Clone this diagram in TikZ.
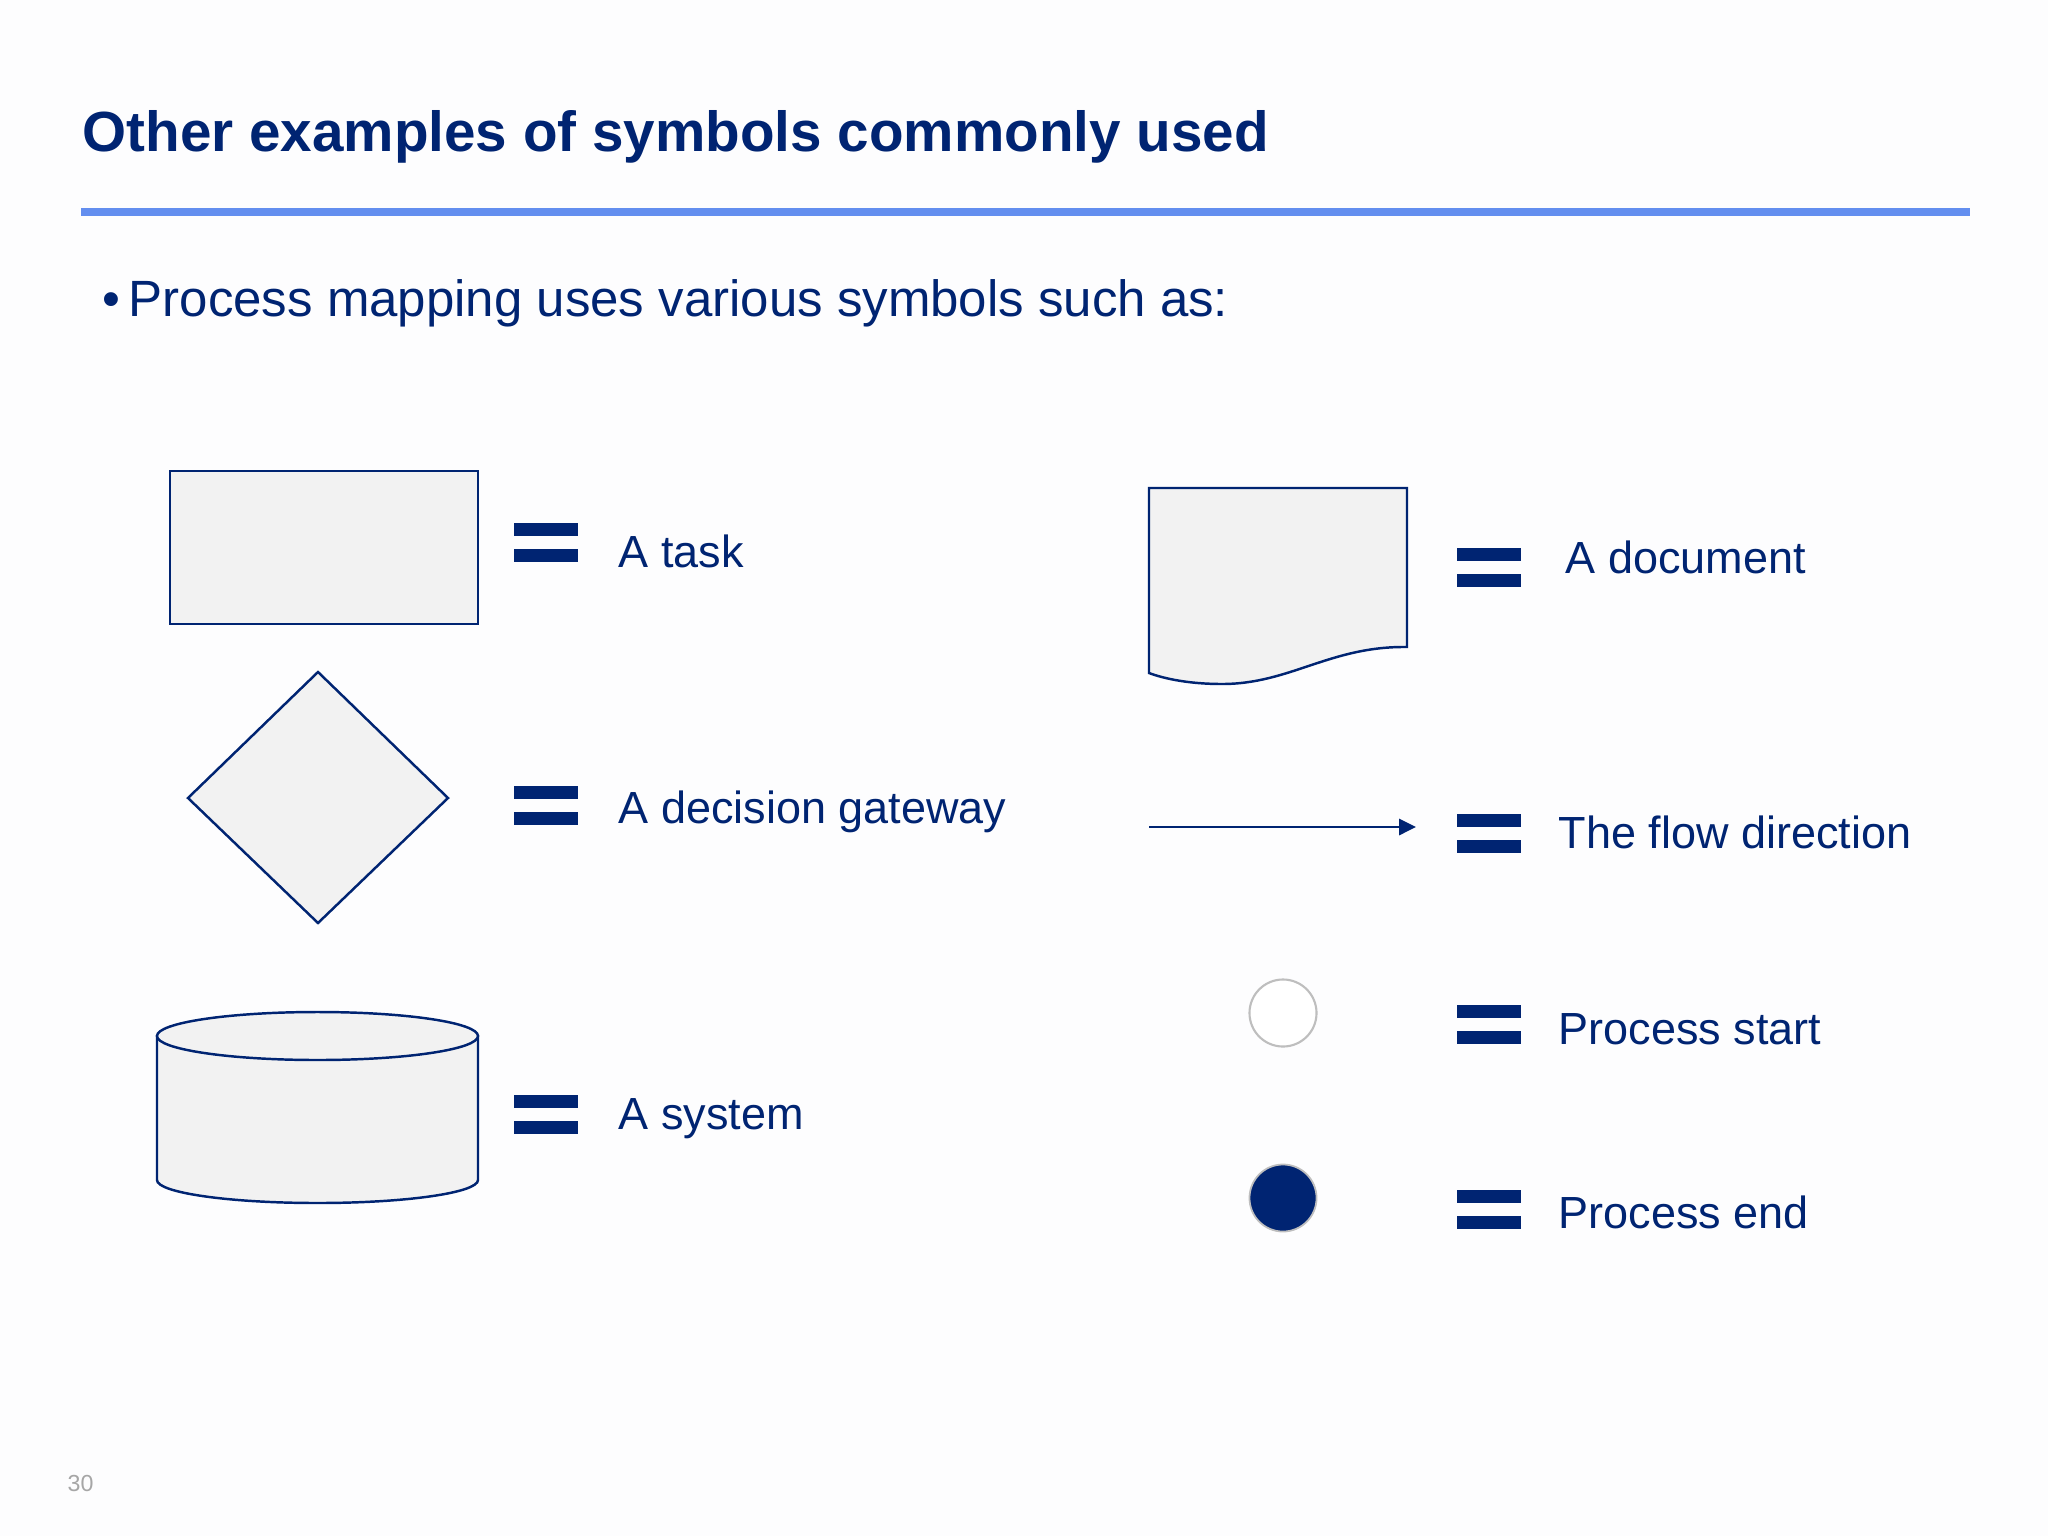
\documentclass[tikz,border=0pt]{standalone}
\usepackage{fontspec}
\setmainfont{Liberation Sans}
\usetikzlibrary{arrows.meta}
\definecolor{navy}{RGB}{0,36,114}
\definecolor{rulecol}{RGB}{99,142,239}
\definecolor{shapefill}{RGB}{242,242,242}
\definecolor{pgnum}{RGB}{166,166,166}
\definecolor{ringgray}{RGB}{190,190,190}
\definecolor{bgcol}{RGB}{253,253,254}
\newcommand\eqmark[2]{%
  \fill[navy] (#1,#2-19.5) rectangle (#1+64,#2-6.5);
  \fill[navy] (#1,#2+6.5) rectangle (#1+64,#2+19.5);}
\begin{document}
\begin{tikzpicture}[x=0.01cm,y=-0.01cm,
  lbl/.style={anchor=base west,inner sep=0,text=navy,font=\fontsize{12.8}{15}\selectfont},
  shapeline/.style={draw=navy,line width=0.7pt,fill=shapefill}]
\fill[bgcol] (0,0) rectangle (2048,1536);
\useasboundingbox (0,0) rectangle (2048,1536);
% title and rule
\node[anchor=base west,inner sep=0,text=navy,font=\fontsize{16.1}{19}\selectfont\bfseries] (title) at (82,151) {Other examples of symbols commonly used};
\coordinate (ruleL) at (81,212);
\coordinate (ruleR) at (1970,212);
\draw[rulecol,line width=2pt] (ruleL) -- (ruleR);
% bullet
\node[anchor=base west,inner sep=0,text=navy,font=\fontsize{14.5}{17}\selectfont] (bul) at (102,316) {\textbullet};
\node[anchor=base west,inner sep=0,text=navy,font=\fontsize{14.5}{17}\selectfont] (intro) at (128,316) {Process mapping uses various symbols such as:};
% task
\draw[shapeline] (170,471) rectangle (478,624);
\eqmark{514}{542.5}
\node[lbl] (ltask) at (618,567) {A task};
% decision
\draw[shapeline] (318,672) -- (448,798) -- (318,923) -- (188,798) -- cycle;
\eqmark{514}{805}
\node[lbl] (ldec) at (618,823) {A decision gateway};
% system
\draw[shapeline] (157,1036) -- (157,1180) arc[start angle=180,end angle=0,x radius=160.5,y radius=23] -- (478,1036) -- cycle;
\draw[shapeline] (317.5,1036) ellipse [x radius=160.5,y radius=24];
\eqmark{514}{1114}
\node[lbl] (lsys) at (618,1129) {A system};
% document
\draw[shapeline] (1149,488) -- (1407,488) -- (1407,647) .. controls (1330,646) and (1290,684) .. (1222,684) .. controls (1190,684) and (1165,679) .. (1149,673) -- cycle;
\eqmark{1457}{567.5}
\node[lbl] (ldoc) at (1565,573) {A document};
% flow
\coordinate (fa) at (1149,827);
\coordinate (fb) at (1416,827);
\draw[navy,line width=0.7pt,-{Triangle[length=4.8pt,width=4.6pt]}] (fa) -- (fb);
\eqmark{1457}{833.5}
\node[lbl] (lflow) at (1558,848) {The flow direction};
% start
\node[circle,draw=ringgray,fill=white,line width=0.6pt,minimum size=0.67cm,inner sep=0] (start) at (1283,1013) {};
\eqmark{1457}{1024}
\node[lbl] (lstart) at (1558,1044) {Process start};
% end
\node[circle,draw=ringgray,fill=navy,line width=0.5pt,minimum size=0.67cm,inner sep=0] (end) at (1283,1198) {};
\eqmark{1457}{1209}
\node[lbl] (lend) at (1558,1228) {Process end};
% page number
\node[anchor=base west,inner sep=0,text=pgnum,font=\fontsize{6.6}{8}\selectfont] (pg) at (67,1491) {30};
\end{tikzpicture}
\end{document}
